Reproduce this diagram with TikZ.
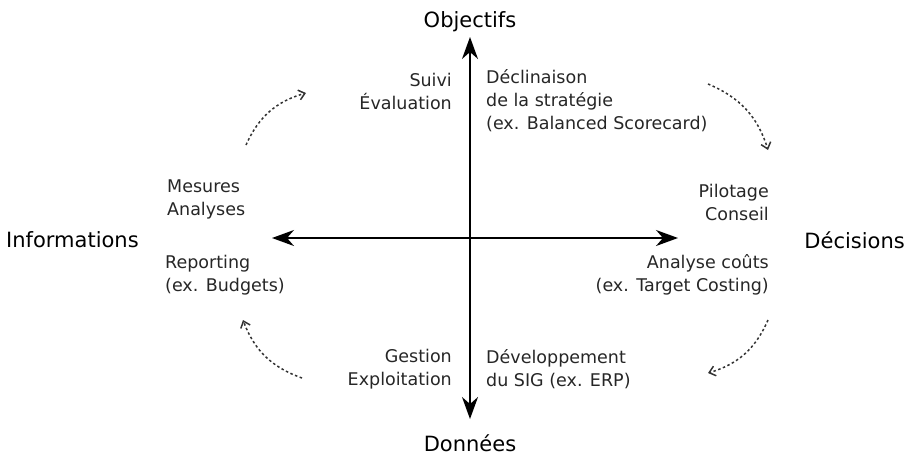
\documentclass[tikz,border=0pt]{standalone}
\usepackage{fontspec}
\setmainfont{DejaVu Sans}
\usetikzlibrary{arrows.meta}
\tikzset{
  heading/.style={font=\fontsize{21}{24}\selectfont, text=black, inner sep=0pt},
  lbl/.style={font=\fontsize{17.5}{23}\selectfont, text=black!85, inner sep=0pt},
  axis/.style={line width=1.3pt, -{Stealth[length=22pt,width=16pt,inset=7pt]}},
  cyc/.style={line width=1.5pt, dash pattern=on 2.5pt off 2.5pt, black!80, -{Straight Barb[length=6pt,width=10pt]}}
}
\begin{document}
\begin{tikzpicture}[x=1pt,y=-1pt]
\useasboundingbox (0,0) rectangle (910,456);
% centre
\coordinate (c) at (470,238);
% headings
\node[heading] (obj) at (470,22) {Objectifs};
\node[heading] (don) at (470,443) {Données};
\node[heading, anchor=west] (inf) at (6,240) {Informations};
\node[heading, anchor=east] (dec) at (905,240) {Décisions};
% axes
\coordinate (top) at (470,37);
\coordinate (bot) at (470,419);
\coordinate (lft) at (272,238);
\coordinate (rgt) at (678,238);
\draw[axis] (c) -- (top);
\draw[axis] (c) -- (bot);
\draw[axis] (c) -- (lft);
\draw[axis] (c) -- (rgt);
% labels
\node[lbl, anchor=east, align=right] (tl) at (452,91) {Suivi\\Évaluation};
\node[lbl, anchor=west, align=left] (tr) at (486,101) {Déclinaison\\de la stratégie\\(ex. Balanced Scorecard)};
\node[lbl, anchor=west, align=left] (lu) at (167,199) {Mesures\\Analyses};
\node[lbl, anchor=west, align=left] (ll) at (165,275) {Reporting\\(ex. Budgets)};
\node[lbl, anchor=east, align=right] (ru) at (769,202) {Pilotage\\Conseil};
\node[lbl, anchor=east, align=right] (rl) at (769,275) {Analyse coûts\\(ex. Target Costing)};
\node[lbl, anchor=east, align=right] (bl) at (452,369) {Gestion\\Exploitation};
\node[lbl, anchor=west, align=left] (br) at (486,369) {Développement\\du SIG (ex. ERP)};
% cycle arcs
\coordinate (a1) at (246,145);
\coordinate (a2) at (306,93);
\coordinate (b1) at (708,84);
\coordinate (b2) at (768,150);
\coordinate (d1) at (768,320);
\coordinate (d2) at (708,373);
\coordinate (e1) at (302,378);
\coordinate (e2) at (243,320);
\draw[cyc] (a1) to[bend left=25] (a2);
\draw[cyc] (b1) to[bend left=25] (b2);
\draw[cyc] (d1) to[bend left=25] (d2);
\draw[cyc] (e1) to[bend left=25] (e2);
\end{tikzpicture}
\end{document}
